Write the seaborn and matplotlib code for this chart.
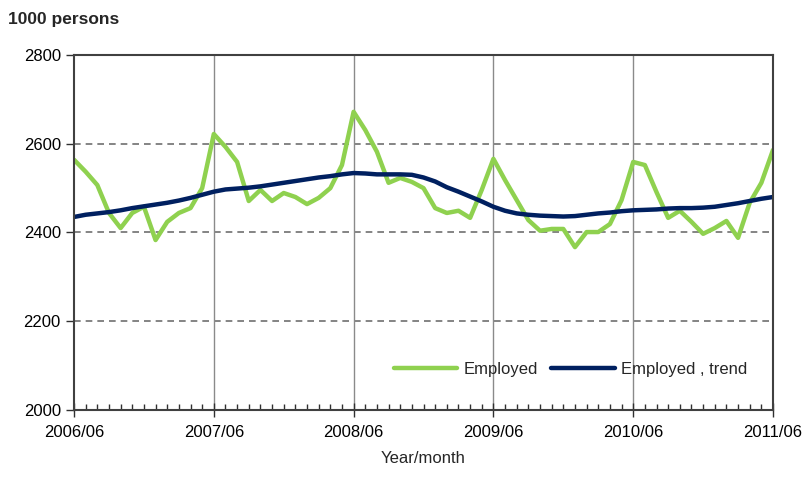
import numpy as np
import pandas as pd
import matplotlib
matplotlib.use('Agg')
import matplotlib.pyplot as plt
import seaborn as sns

# monthly, 2006/06 .. 2011/06
months = pd.date_range('2006-06-01', '2011-06-01', freq='MS')
employed = [2564, 2537, 2507, 2444, 2410, 2444, 2458, 2383, 2424, 2444,
            2455, 2500, 2622, 2593, 2559, 2471, 2496, 2471, 2489, 2480,
            2464, 2478, 2500, 2552, 2672, 2631, 2582, 2512, 2523, 2514,
            2500, 2455, 2444, 2449, 2433, 2496, 2566, 2518, 2473, 2428,
            2404, 2408, 2408, 2367, 2401, 2401, 2419, 2473, 2559, 2552,
            2491, 2433, 2449, 2424, 2397, 2410, 2426, 2388, 2467, 2512,
            2586]
trend = [2435, 2440, 2443, 2446, 2450, 2455, 2459, 2463, 2467, 2472,
         2478, 2485, 2492, 2497, 2499, 2501, 2504, 2508, 2512, 2516,
         2520, 2524, 2527, 2531, 2534, 2533, 2531, 2531, 2531, 2530,
         2524, 2515, 2502, 2492, 2481, 2470, 2458, 2449, 2443, 2440,
         2438, 2437, 2436, 2437, 2440, 2443, 2445, 2448, 2450, 2451,
         2452, 2454, 2455, 2455, 2456, 2458, 2462, 2466, 2471, 2476,
         2480]
year_ticks = ['2006/06', '2007/06', '2008/06', '2009/06', '2010/06', '2011/06']

df = pd.DataFrame({'t': np.arange(len(months)), 'Employed': employed,
                   'Employed , trend': trend})
long = df.melt(id_vars='t', var_name='series', value_name='value')

sns.set_style('white')
plt.rcParams['font.family'] = ['Liberation Sans', 'DejaVu Sans']

fig = plt.figure(figsize=(8.08, 4.93), dpi=100)
ax = fig.add_axes([0.0916, 0.1684, 0.8651, 0.72])

sns.lineplot(data=long, x='t', y='value', hue='series',
             palette={'Employed': '#8fd14f', 'Employed , trend': '#002060'},
             linewidth=3.2, ax=ax)

ax.set_xlim(0, len(months) - 1)
ax.set_ylim(2000, 2800)
ax.set_yticks([2000, 2200, 2400, 2600, 2800])
ax.set_xticks(np.arange(0, len(months), 12))
ax.set_xticklabels(year_ticks)
ax.set_xticks(np.arange(0, len(months)), minor=True)

for y in [2200, 2400, 2600]:
    ax.axhline(y, color='#707070', lw=1.2, ls=(0, (4, 3)), zorder=0)
for x in np.arange(12, len(months) - 1, 12):
    ax.axvline(x, color='#8a8a8a', lw=1.0, zorder=0)

for s in ax.spines.values():
    s.set_color('#404040')
    s.set_linewidth(1.5)

ax.tick_params(axis='x', which='major', bottom=True, direction='inout',
               length=10, width=1, colors='#303030', labelsize=12, pad=6)
ax.tick_params(axis='x', which='minor', bottom=True, direction='in',
               length=4, width=1, colors='#303030')
ax.tick_params(axis='y', which='major', left=True, direction='out',
               length=6, width=1, colors='#303030', labelsize=12)
for lab in ax.get_xticklabels() + ax.get_yticklabels():
    lab.set_color('black')

ax.set_xlabel('Year/month', fontsize=12, labelpad=8)
ax.set_ylabel('')
fig.text(0.01, 0.96, '1000 persons', fontsize=12.5, fontweight='bold',
         va='center')

ax.legend(loc='lower right', bbox_to_anchor=(0.985, 0.05), ncol=2,
          frameon=False, fontsize=12, handlelength=3.8, columnspacing=0.8,
          handletextpad=0.4)

fig.savefig('out.png', dpi=100)
